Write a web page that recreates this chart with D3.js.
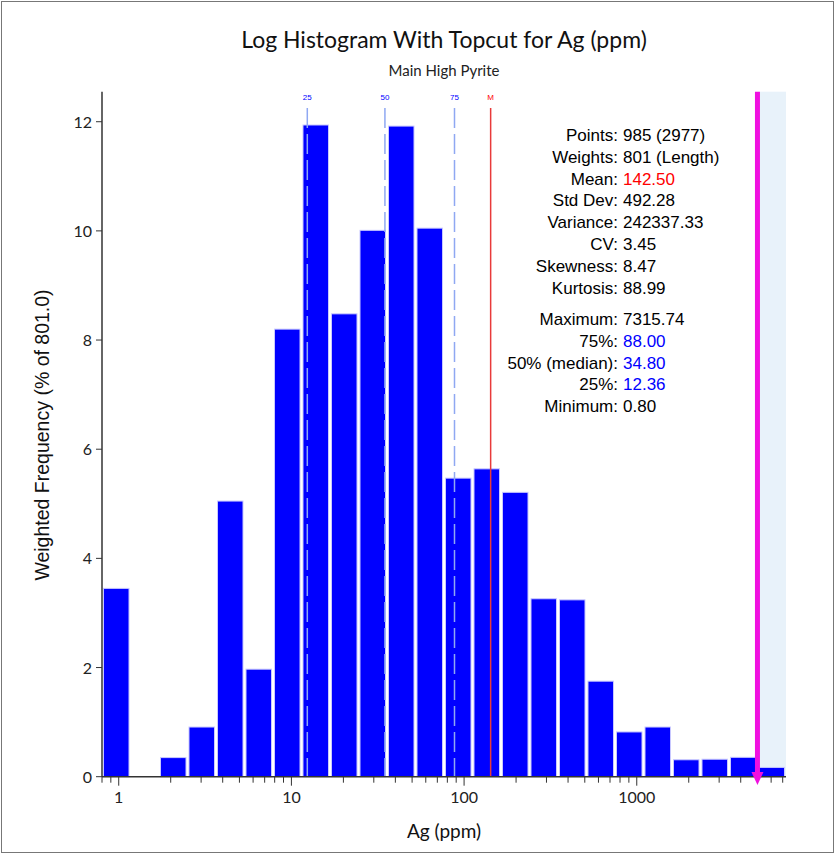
<!DOCTYPE html>
<html>
<head>
<meta charset="utf-8">
<script src="https://cdn.jsdelivr.net/npm/d3@7"></script>
<style>
body { margin: 0; background: #fff; }
</style>
</head>
<body>
<script>
// data
var freq = [3.45, 0, 0.35, 0.91, 5.05, 1.97, 8.20, 11.94, 8.48, 10.01, 11.92, 10.05,
            5.47, 5.64, 5.21, 3.26, 3.24, 1.75, 0.82, 0.91, 0.31, 0.32, 0.355, 0.17];
var binMin = 0.8;
var binMax = 7315.74;
var quartiles = [12.36, 34.80, 88.00];
var quartileLabels = ['25', '50', '75'];
var mean = 142.50;
var topcut = 5000;
var xTicks = [1, 10, 100, 1000];
var yTicks = [0, 2, 4, 6, 8, 10, 12];
var statLabels = ['Points:', 'Weights:', 'Mean:', 'Std Dev:', 'Variance:', 'CV:', 'Skewness:', 'Kurtosis:',
                  'Maximum:', '75%:', '50% (median):', '25%:', 'Minimum:'];
var statValues = ['985 (2977)', '801 (Length)', '142.50', '492.28', '242337.33', '3.45', '8.47', '88.99',
                  '7315.74', '88.00', '34.80', '12.36', '0.80'];
var statColors = ['#000', '#000', '#f00', '#000', '#000', '#000', '#000', '#000',
                  '#000', '#00f', '#00f', '#00f', '#000'];

var width = 836;
var height = 854;

var svg = d3.select('body').append('svg')
    .attr('width', width)
    .attr('height', height);

// outer frame
svg.append('rect')
    .attr('x', 1.5).attr('y', 1.5)
    .attr('width', 832).attr('height', 851)
    .attr('fill', 'none')
    .attr('stroke', '#777');

var x = d3.scaleLog().domain([binMin, binMax]).range([102, 786]);
var y = d3.scaleLinear().domain([0, 12.55]).range([776.7, 91.7]);

// bin edges are equal steps in log space
var lmin = Math.log10(binMin), lmax = Math.log10(binMax);
var step = (lmax - lmin) / freq.length;
var bins = freq.map(function(v, i) {
    return { lo: Math.pow(10, lmin + i * step), hi: Math.pow(10, lmin + (i + 1) * step), v: v };
});

// topcut shaded zone
svg.append('rect')
    .attr('x', x(topcut))
    .attr('y', y(12.55))
    .attr('width', x(binMax) - x(topcut))
    .attr('height', y(0) - y(12.55))
    .attr('fill', '#e8f2fa');

// bars
svg.selectAll('.bar')
    .data(bins.filter(function(d) { return d.v > 0; }))
    .enter().append('rect')
    .attr('class', 'bar')
    .attr('x', function(d) { return x(d.lo) + 1.5; })
    .attr('y', function(d) { return y(d.v); })
    .attr('width', function(d) { return x(d.hi) - x(d.lo) - 3; })
    .attr('height', function(d) { return y(0) - y(d.v); })
    .attr('fill', '#0000ff')
    .attr('stroke', '#c8c8ff')
    .attr('stroke-width', 1);

// quartile lines
quartiles.forEach(function(q, i) {
    svg.append('line')
        .attr('x1', x(q)).attr('x2', x(q))
        .attr('y1', 108).attr('y2', y(0))
        .attr('stroke', '#8fa8f2')
        .attr('stroke-width', 1.5)
        .attr('stroke-dasharray', '20,6');
    svg.append('text')
        .attr('x', x(q)).attr('y', 100)
        .attr('text-anchor', 'middle')
        .style('font-family', 'Liberation Sans, Arial, sans-serif')
        .style('font-size', '8px')
        .attr('fill', '#0000ff')
        .text(quartileLabels[i]);
});

// mean line
svg.append('line')
    .attr('x1', x(mean)).attr('x2', x(mean))
    .attr('y1', 108).attr('y2', y(0))
    .attr('stroke', '#e83a3a')
    .attr('stroke-width', 1.5);
svg.append('text')
    .attr('x', x(mean)).attr('y', 100)
    .attr('text-anchor', 'middle')
    .style('font-family', 'Liberation Sans, Arial, sans-serif')
    .style('font-size', '8px')
    .attr('fill', '#ff0000')
    .text('M');

// axes
var xAxis = svg.append('g').attr('transform', 'translate(0,' + y(0) + ')');
xAxis.append('line')
    .attr('x1', 102).attr('x2', 786)
    .attr('stroke', '#333').attr('stroke-width', 1.5);
var minor = [];
[0.1, 1, 10, 100, 1000].forEach(function(d) {
    for (var k = 1; k < 10; k++) {
        var t = d * k;
        if (t >= binMin && t <= binMax && xTicks.indexOf(t) < 0) minor.push(t);
    }
});
xAxis.selectAll('.minor').data(minor).enter().append('line')
    .attr('x1', function(d) { return x(d); }).attr('x2', function(d) { return x(d); })
    .attr('y1', 0).attr('y2', 6)
    .attr('stroke', '#333');
xAxis.selectAll('.major').data(xTicks).enter().append('line')
    .attr('x1', function(d) { return x(d); }).attr('x2', function(d) { return x(d); })
    .attr('y1', 0).attr('y2', 9)
    .attr('stroke', '#333');
xAxis.selectAll('.lbl').data(xTicks).enter().append('text')
    .attr('x', function(d) { return x(d); })
    .attr('y', 26)
    .attr('text-anchor', 'middle')
    .style('font-family', 'Lato, sans-serif')
    .style('font-size', '16px')
    .attr('fill', '#222')
    .text(function(d) { return d; });

var yAxis = svg.append('g').attr('transform', 'translate(102,0)');
yAxis.append('line')
    .attr('y1', y(0)).attr('y2', y(12.55))
    .attr('stroke', '#333').attr('stroke-width', 1.5);
yAxis.selectAll('.tk').data(yTicks).enter().append('line')
    .attr('x1', -6).attr('x2', 0)
    .attr('y1', function(d) { return y(d); }).attr('y2', function(d) { return y(d); })
    .attr('stroke', '#333');
yAxis.selectAll('.lbl').data(yTicks).enter().append('text')
    .attr('x', -10)
    .attr('y', function(d) { return y(d) + 6; })
    .attr('text-anchor', 'end')
    .style('font-family', 'Lato, sans-serif')
    .style('font-size', '16px')
    .attr('fill', '#222')
    .text(function(d) { return d; });

// topcut marker
svg.append('line')
    .attr('x1', x(topcut)).attr('x2', x(topcut))
    .attr('y1', y(12.55)).attr('y2', 774)
    .attr('stroke', '#f010e0')
    .attr('stroke-width', 5);
svg.append('path')
    .attr('d', 'M' + (x(topcut) - 6) + ',772 L' + (x(topcut) + 6) + ',772 L' + x(topcut) + ',785 Z')
    .attr('fill', '#f010e0');

// stats block
var stats = svg.append('g');
statLabels.forEach(function(s, i) {
    var yy = 141 + i * 21.8 + (i >= 8 ? 9.5 : 0);
    stats.append('text')
        .attr('x', 618).attr('y', yy)
        .attr('text-anchor', 'end')
        .style('font-family', 'Liberation Sans, Arial, sans-serif')
        .style('font-size', '17px')
        .attr('fill', '#000')
        .text(s);
    stats.append('text')
        .attr('x', 623).attr('y', yy)
        .style('font-family', 'Liberation Sans, Arial, sans-serif')
        .style('font-size', '17px')
        .attr('fill', statColors[i])
        .text(statValues[i]);
});

// titles
svg.append('text')
    .attr('x', 444).attr('y', 48)
    .attr('text-anchor', 'middle')
    .style('font-family', 'Lato, sans-serif')
    .style('font-size', '23px')
    .attr('fill', '#111')
    .text('Log Histogram With Topcut for Ag (ppm)');
svg.append('text')
    .attr('x', 444).attr('y', 76)
    .attr('text-anchor', 'middle')
    .style('font-family', 'Lato, sans-serif')
    .style('font-size', '15px')
    .attr('fill', '#222')
    .text('Main High Pyrite');
svg.append('text')
    .attr('x', 444).attr('y', 838)
    .attr('text-anchor', 'middle')
    .style('font-family', 'Lato, sans-serif')
    .style('font-size', '19px')
    .attr('fill', '#111')
    .text('Ag (ppm)');
svg.append('text')
    .attr('transform', 'translate(49,435) rotate(-90)')
    .attr('text-anchor', 'middle')
    .style('font-family', 'Liberation Sans, Arial, sans-serif')
    .style('font-size', '19.5px')
    .attr('fill', '#111')
    .text('Weighted Frequency (% of 801.0)');
</script>
</body>
</html>
